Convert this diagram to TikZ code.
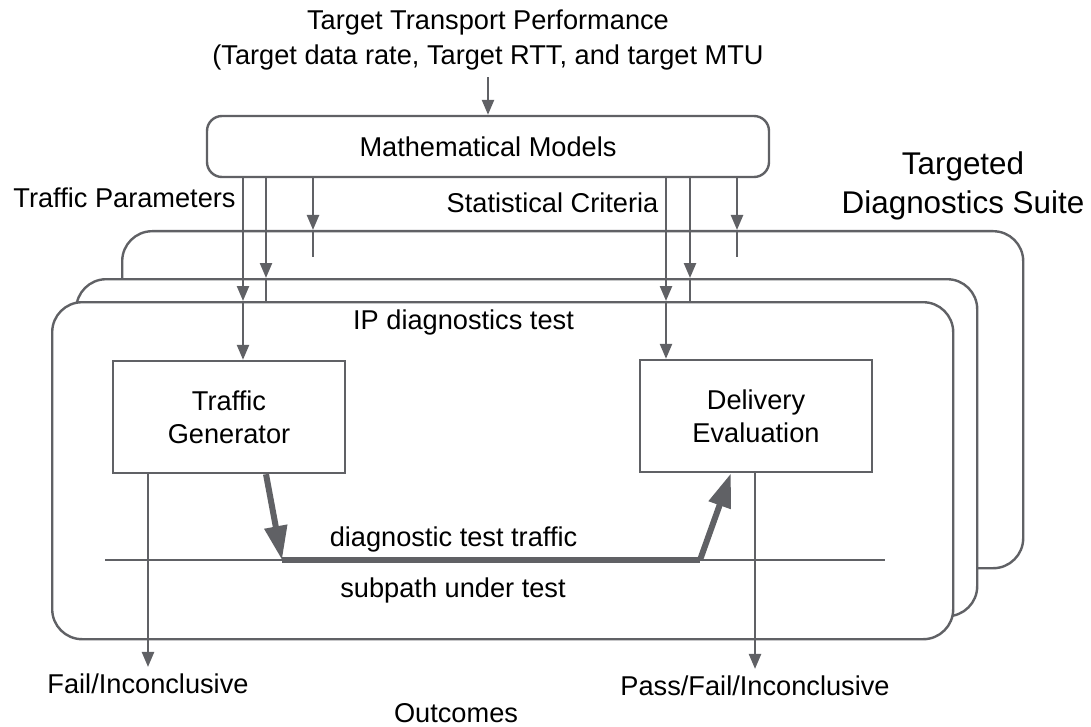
\documentclass[tikz,border=0pt]{standalone}
\usepackage{fontspec}
\setmainfont{Liberation Sans}
\usepackage{tikz}
\usetikzlibrary{arrows.meta}
\usetikzlibrary{positioning}

\definecolor{lc}{RGB}{96,97,101}

\tikzset{
  layer/.style={rectangle, draw=lc, line width=1.2pt, fill=white, rounded corners=15pt, minimum width=450.5pt, minimum height=168.5pt, anchor=north west},
  unitbox/.style={rectangle, draw=lc, line width=1.2pt, fill=white, minimum width=116pt, minimum height=56pt, align=center},
  ln/.style={draw=lc, line width=1.2pt},
  arr/.style={draw=lc, line width=1.2pt, -{Triangle[length=7.5pt,width=6pt]}},
  flow/.style={draw=lc, line width=3pt},
  flowarr/.style={draw=lc, line width=3pt, -{Triangle[length=17pt,width=11pt]}},
}

\begin{document}
\begin{tikzpicture}[x=0.5pt, y=-0.5pt, font=\fontsize{13.6}{17.5}\selectfont]

\useasboundingbox (0,0) rectangle (1091,727);

% the suite: three stacked tests
\node at (121,230) [layer] (back) {};
\node at (75,278) [layer] (middle) {};
\node at (51,301) [layer] (front) {};

\node at (488,146.5) [rectangle, draw=lc, line width=1.2pt, fill=white, rounded corners=7.5pt, minimum width=281pt, minimum height=30.5pt] (models) {Mathematical Models};

\node at (229,417) [unitbox, font=\fontsize{13.6}{16.5}\selectfont] (gen) {Traffic\\Generator};
\node at (756,416) [unitbox, font=\fontsize{13.6}{16.5}\selectfont] (eval) {Delivery\\Evaluation};

% labels
\node at (488,40) [align=center] (target) {Target Transport Performance\\(Target data rate, Target RTT, and target MTU};
\node at (124.5,198) (params) {Traffic Parameters};
\node at (552.5,203) (criteria) {Statistical Criteria};
\node at (963,186) [align=center, font=\fontsize{15.7}{19.5}\selectfont] (suite) {Targeted\\Diagnostics Suite};
\node at (463.5,322) (iptest) {IP diagnostics test};
\node at (453.5,539) (traffic) {diagnostic test traffic};
\node at (453,590) (subpath) {subpath under test};
\node at (148,684) (failinc) {Fail/Inconclusive};
\node at (755,686) (passinc) {Pass/Fail/Inconclusive};
\node at (456,713) (outcomes) {Outcomes};

% columns of the connectors
\coordinate (p1) at (243,0);
\coordinate (p2) at (266,0);
\coordinate (p3) at (313,0);
\coordinate (c1) at (666,0);
\coordinate (c2) at (690,0);
\coordinate (c3) at (737,0);
\coordinate (e1) at (313,257);
\coordinate (e2) at (737,257);

\draw[arr] (target) -- (models);

\draw[arr] (models.south -| p1) -- (front.north -| p1);
\draw[arr] (front.north -| p1) -- (gen.north -| p1);
\draw[arr] (models.south -| p2) -- (middle.north -| p2);
\draw[ln] (middle.north -| p2) -- (front.north -| p2);
\draw[arr] (models.south -| p3) -- (back.north -| p3);
\draw[ln] (back.north -| p3) -- (e1);

\draw[arr] (models.south -| c1) -- (front.north -| c1);
\draw[arr] (front.north -| c1) -- (eval.north -| c1);
\draw[arr] (models.south -| c2) -- (middle.north -| c2);
\draw[ln] (middle.north -| c2) -- (front.north -| c2);
\draw[arr] (models.south -| c3) -- (back.north -| c3);
\draw[ln] (back.north -| c3) -- (e2);

% subpath and test traffic
\coordinate (sp1) at (105,560);
\coordinate (sp2) at (885,560);
\coordinate (t1) at (282,560);
\coordinate (t2) at (700,560);
\draw[ln] (sp1) -- (sp2);
\draw[flowarr] (gen.south -| 266,0) -- (t1);
\draw[flow] (t1) -- (t2);
\draw[flowarr] (t2) -- (eval.south -| 731,0);

% outcomes
\draw[arr] (gen.south -| failinc) -- (failinc);
\draw[arr] (eval.south -| passinc) -- (passinc);

\end{tikzpicture}
\end{document}
